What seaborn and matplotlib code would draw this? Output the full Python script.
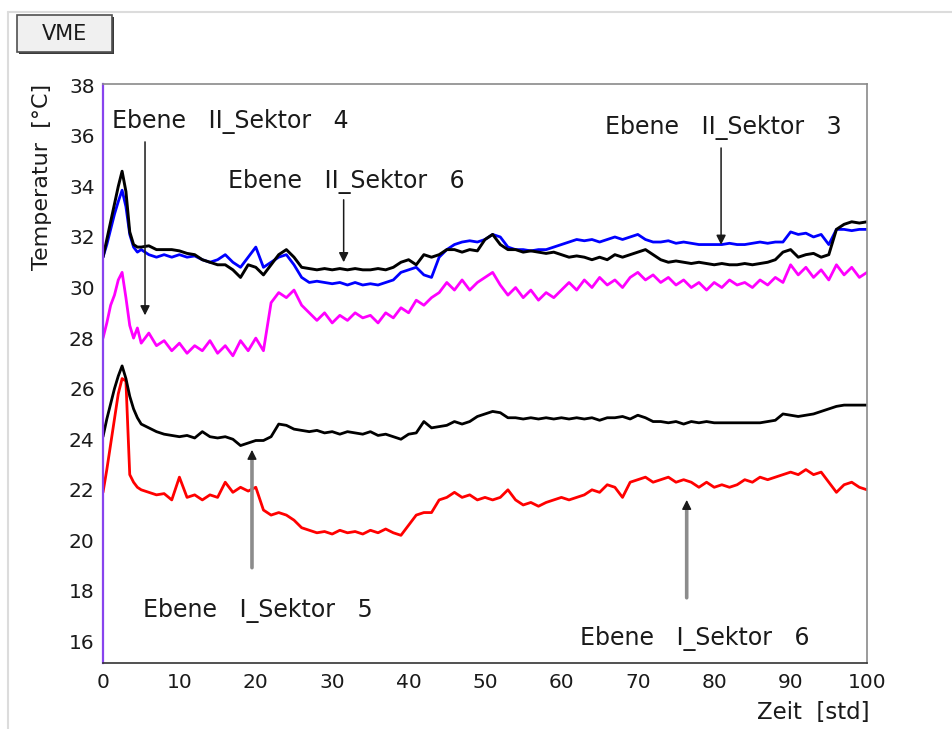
import matplotlib
matplotlib.use("Agg")
import matplotlib.pyplot as plt
from matplotlib.patches import Rectangle
from matplotlib.lines import Line2D
from matplotlib.ticker import MultipleLocator
import numpy as np
import pandas as pd
import seaborn as sns

# Time axis in hours (finer sampling during the warm-up peak)
hours = [0, 0.5, 1, 1.5, 2, 2.5, 3, 3.5, 4, 4.5, 5] + list(range(6, 101))

# Ebene II, Sektor 3 (blue)
ii_sektor3 = [
    31.2, 31.7, 32.3, 32.9, 33.4, 33.85, 33.2, 32.1, 31.6, 31.4, 31.5,
    31.3, 31.2, 31.3, 31.2, 31.3, 31.2, 31.25, 31.1, 31.0, 31.1,
    31.3, 31.0, 30.8, 31.2, 31.6, 30.8, 31.0, 31.2, 31.3, 30.9,
    30.4, 30.2, 30.25, 30.2, 30.15, 30.2, 30.1, 30.2, 30.1, 30.15,
    30.1, 30.2, 30.3, 30.6, 30.7, 30.8, 30.5, 30.4, 31.2, 31.5,
    31.7, 31.8, 31.85, 31.8, 31.9, 32.1, 32.0, 31.6, 31.5, 31.5,
    31.45, 31.5, 31.5, 31.6, 31.7, 31.8, 31.9, 31.85, 31.9, 31.8,
    31.9, 32.0, 31.9, 32.0, 32.1, 31.9, 31.8, 31.8, 31.85, 31.75,
    31.8, 31.75, 31.7, 31.7, 31.7, 31.7, 31.75, 31.7, 31.7, 31.75,
    31.8, 31.75, 31.8, 31.8, 32.2, 32.1, 32.15, 32.0, 32.1, 31.7,
    32.3, 32.3, 32.25, 32.3, 32.3,
]

# Ebene II, Sektor 6 (black, upper)
ii_sektor6 = [
    31.2, 31.9, 32.6, 33.3, 34.0, 34.6, 33.8, 32.2, 31.7, 31.6, 31.6,
    31.65, 31.5, 31.5, 31.5, 31.45, 31.35, 31.3, 31.1, 31.0, 30.9,
    30.9, 30.7, 30.4, 30.9, 30.8, 30.5, 30.9, 31.3, 31.5, 31.2,
    30.8, 30.75, 30.7, 30.75, 30.7, 30.75, 30.7, 30.75, 30.7, 30.7,
    30.75, 30.7, 30.8, 31.0, 31.1, 30.9, 31.3, 31.2, 31.3, 31.5,
    31.5, 31.4, 31.5, 31.45, 31.9, 32.1, 31.7, 31.5, 31.5, 31.4,
    31.45, 31.4, 31.35, 31.4, 31.3, 31.2, 31.25, 31.2, 31.1, 31.2,
    31.1, 31.3, 31.2, 31.3, 31.4, 31.5, 31.3, 31.1, 31.0, 31.05,
    31.0, 30.95, 31.0, 30.95, 30.9, 30.95, 30.9, 30.9, 30.95, 30.9,
    30.95, 31.0, 31.1, 31.4, 31.5, 31.2, 31.3, 31.35, 31.2, 31.3,
    32.3, 32.5, 32.6, 32.55, 32.6,
]

# Ebene II, Sektor 4 (magenta)
ii_sektor4 = [
    28.0, 28.6, 29.3, 29.7, 30.3, 30.6, 29.6, 28.5, 28.0, 28.4, 27.8,
    28.2, 27.7, 27.9, 27.5, 27.8, 27.4, 27.7, 27.5, 27.9, 27.4,
    27.7, 27.3, 27.9, 27.5, 28.0, 27.5, 29.4, 29.8, 29.6, 29.9,
    29.3, 29.0, 28.7, 29.0, 28.6, 28.9, 28.7, 29.0, 28.8, 28.9,
    28.6, 29.0, 28.8, 29.2, 29.0, 29.5, 29.3, 29.6, 29.8, 30.2,
    29.9, 30.3, 29.9, 30.2, 30.4, 30.6, 30.1, 29.7, 30.0, 29.6,
    29.9, 29.5, 29.8, 29.6, 29.9, 30.2, 29.9, 30.3, 30.0, 30.4,
    30.1, 30.3, 30.0, 30.4, 30.6, 30.3, 30.5, 30.2, 30.4, 30.1,
    30.3, 30.0, 30.2, 29.9, 30.2, 30.0, 30.3, 30.1, 30.2, 30.0,
    30.3, 30.1, 30.4, 30.2, 30.9, 30.5, 30.8, 30.4, 30.7, 30.3,
    30.9, 30.5, 30.8, 30.4, 30.6,
]

# Ebene I, Sektor 5 (black, lower)
i_sektor5 = [
    24.1, 24.8, 25.4, 26.0, 26.5, 26.9, 26.4, 25.7, 25.2, 24.85, 24.6,
    24.45, 24.3, 24.2, 24.15, 24.1, 24.15, 24.05, 24.3, 24.1, 24.05,
    24.1, 24.0, 23.75, 23.85, 23.95, 23.95, 24.1, 24.6, 24.55, 24.4,
    24.35, 24.3, 24.35, 24.25, 24.3, 24.2, 24.3, 24.25, 24.2, 24.3,
    24.15, 24.2, 24.1, 24.0, 24.2, 24.25, 24.7, 24.45, 24.5, 24.55,
    24.7, 24.6, 24.7, 24.9, 25.0, 25.1, 25.05, 24.85, 24.85, 24.8,
    24.85, 24.8, 24.85, 24.8, 24.85, 24.8, 24.85, 24.8, 24.85, 24.75,
    24.85, 24.85, 24.9, 24.8, 24.95, 24.85, 24.7, 24.7, 24.65, 24.7,
    24.6, 24.7, 24.65, 24.7, 24.65, 24.65, 24.65, 24.65, 24.65, 24.65,
    24.65, 24.7, 24.75, 25.0, 24.95, 24.9, 24.95, 25.0, 25.1, 25.2,
    25.3, 25.35, 25.35, 25.35, 25.35,
]

# Ebene I, Sektor 6 (red)
i_sektor6 = [
    21.9, 22.8, 23.8, 24.8, 25.8, 26.4, 26.3, 22.6, 22.3, 22.1, 22.0,
    21.9, 21.8, 21.85, 21.6, 22.5, 21.7, 21.8, 21.6, 21.8, 21.7,
    22.3, 21.9, 22.1, 21.95, 22.1, 21.2, 21.0, 21.1, 21.0, 20.8,
    20.5, 20.4, 20.3, 20.35, 20.25, 20.4, 20.3, 20.35, 20.25, 20.4,
    20.3, 20.45, 20.3, 20.2, 20.6, 21.0, 21.1, 21.1, 21.6, 21.7,
    21.9, 21.7, 21.8, 21.6, 21.7, 21.6, 21.7, 22.0, 21.6, 21.4,
    21.5, 21.35, 21.5, 21.6, 21.7, 21.6, 21.7, 21.8, 22.0, 21.9,
    22.2, 22.1, 21.7, 22.3, 22.4, 22.5, 22.3, 22.4, 22.5, 22.3,
    22.4, 22.3, 22.1, 22.3, 22.1, 22.2, 22.1, 22.2, 22.4, 22.3,
    22.5, 22.4, 22.5, 22.6, 22.7, 22.6, 22.8, 22.6, 22.7, 22.3,
    21.9, 22.2, 22.3, 22.1, 22.0,
]

series = [
    ("Ebene II_Sektor 3", ii_sektor3, "#0000ff", 2.0),
    ("Ebene II_Sektor 4", ii_sektor4, "#ff00ff", 2.0),
    ("Ebene I_Sektor 6", i_sektor6, "#ff0000", 2.0),
    ("Ebene II_Sektor 6", ii_sektor6, "#000000", 2.1),
    ("Ebene I_Sektor 5", i_sektor5, "#000000", 2.0),
]

frames = []
for name, vals, _, _ in series:
    assert len(vals) == len(hours), name
    frames.append(pd.DataFrame({"Zeit": hours, "Temperatur": vals, "Kanal": name}))
df = pd.concat(frames, ignore_index=True)

sns.set_theme(style="white")
plt.rcParams["font.family"] = ["DejaVu Sans"]

W, H = 952, 729
fig = plt.figure(figsize=(W / 100, H / 100), dpi=100)
fig.patch.set_facecolor("white")
ax = fig.add_axes([103 / W, 1 - 663 / H, (867 - 103) / W, (663 - 84) / H])

for name, _, color, lw in series:
    sns.lineplot(data=df[df["Kanal"] == name], x="Zeit", y="Temperatur",
                 color=color, linewidth=lw, estimator=None, ax=ax,
                 legend=False)

ax.set_xlim(0, 100)
ax.set_ylim(15.15, 38.05)
ax.set_xlabel("")
ax.set_ylabel("")

ax.xaxis.set_major_locator(MultipleLocator(10))
ax.xaxis.set_minor_locator(MultipleLocator(2))
ax.yaxis.set_major_locator(MultipleLocator(2))
ax.yaxis.set_minor_locator(MultipleLocator(0.5))
ax.tick_params(axis="both", which="both", direction="in", colors="#333333",
               labelcolor="#1a1a1a", labelsize=14.5, top=False, right=False)
ax.tick_params(axis="y", which="major", length=16, width=1.1, pad=6)
ax.tick_params(axis="y", which="minor", length=7, width=1.0)
ax.tick_params(axis="x", which="major", length=13, width=1.1, pad=7)
ax.tick_params(axis="x", which="minor", length=7, width=1.0)

for side in ("top", "right"):
    ax.spines[side].set_color("#8a8a8a")
    ax.spines[side].set_linewidth(1.2)
ax.spines["bottom"].set_color("#333333")
ax.spines["bottom"].set_linewidth(1.2)
ax.spines["left"].set_color("#8844ee")
ax.spines["left"].set_linewidth(1.6)

# Axis titles aligned to the axis ends
fig.text(42 / W, 1 - 84 / H, "Temperatur  [°C]", rotation=90, ha="center",
         va="top", fontsize=16, color="#1a1a1a")
fig.text(870 / W, 1 - 712 / H, "Zeit  [std]", ha="right", va="center",
         fontsize=16.5, color="#1a1a1a")

# Sensor annotations
label_kw = dict(fontsize=17, color="#1a1a1a", ha="left", va="center")
ax.text(1.2, 36.57, "Ebene   II_Sektor   4", **label_kw)
ax.text(16.4, 34.20, "Ebene   II_Sektor   6", **label_kw)
ax.text(65.7, 36.33, "Ebene   II_Sektor   3", **label_kw)
ax.text(5.2, 17.22, "Ebene   I_Sektor   5", **label_kw)
ax.text(62.4, 16.12, "Ebene   I_Sektor   6", **label_kw)

black_arrow = dict(arrowstyle="-|>", color="#1a1a1a", lw=1.1,
                   mutation_scale=14, shrinkA=0, shrinkB=0)
ax.annotate("", xy=(5.5, 28.9), xytext=(5.5, 35.76), arrowprops=black_arrow)
ax.annotate("", xy=(31.5, 31.0), xytext=(31.5, 33.47), arrowprops=black_arrow)
ax.annotate("", xy=(80.9, 31.69), xytext=(80.9, 35.52), arrowprops=black_arrow)

gray_arrow = dict(arrowstyle="-", color="#8c8c8c", lw=2.6, shrinkA=0, shrinkB=0)
head = dict(arrowstyle="-|>", color="#1a1a1a", lw=1.0, mutation_scale=14,
            shrinkA=0, shrinkB=0)
for x0, y_tip, y_start in ((19.5, 23.58, 18.92), (76.4, 21.6, 17.73)):
    ax.annotate("", xy=(x0, y_tip - 0.3), xytext=(x0, y_start),
                arrowprops=gray_arrow)
    ax.annotate("", xy=(x0, y_tip), xytext=(x0, y_tip - 0.35), arrowprops=head)

# Window frame lines
fig.add_artist(Line2D([8 / W, 1], [1 - 12 / H, 1 - 12 / H],
                      transform=fig.transFigure, color="#dcdcdc", lw=1.5))
fig.add_artist(Line2D([8 / W, 8 / W], [0, 1 - 12 / H],
                      transform=fig.transFigure, color="#dcdcdc", lw=1.5))

# "VME" button
fig.add_artist(Rectangle((19 / W, 1 - 54 / H), 95 / W, 37 / H,
                         transform=fig.transFigure, facecolor="#3a3a3a",
                         edgecolor="none"))
fig.add_artist(Rectangle((17 / W, 1 - 52 / H), 95 / W, 37 / H,
                         transform=fig.transFigure, facecolor="#f0f0f0",
                         edgecolor="#505050", lw=1.2))
fig.text(64 / W, 1 - 34 / H, "VME", ha="center", va="center", fontsize=15,
         color="#1a1a1a")

fig.savefig("out.png", dpi=100, facecolor="white")
